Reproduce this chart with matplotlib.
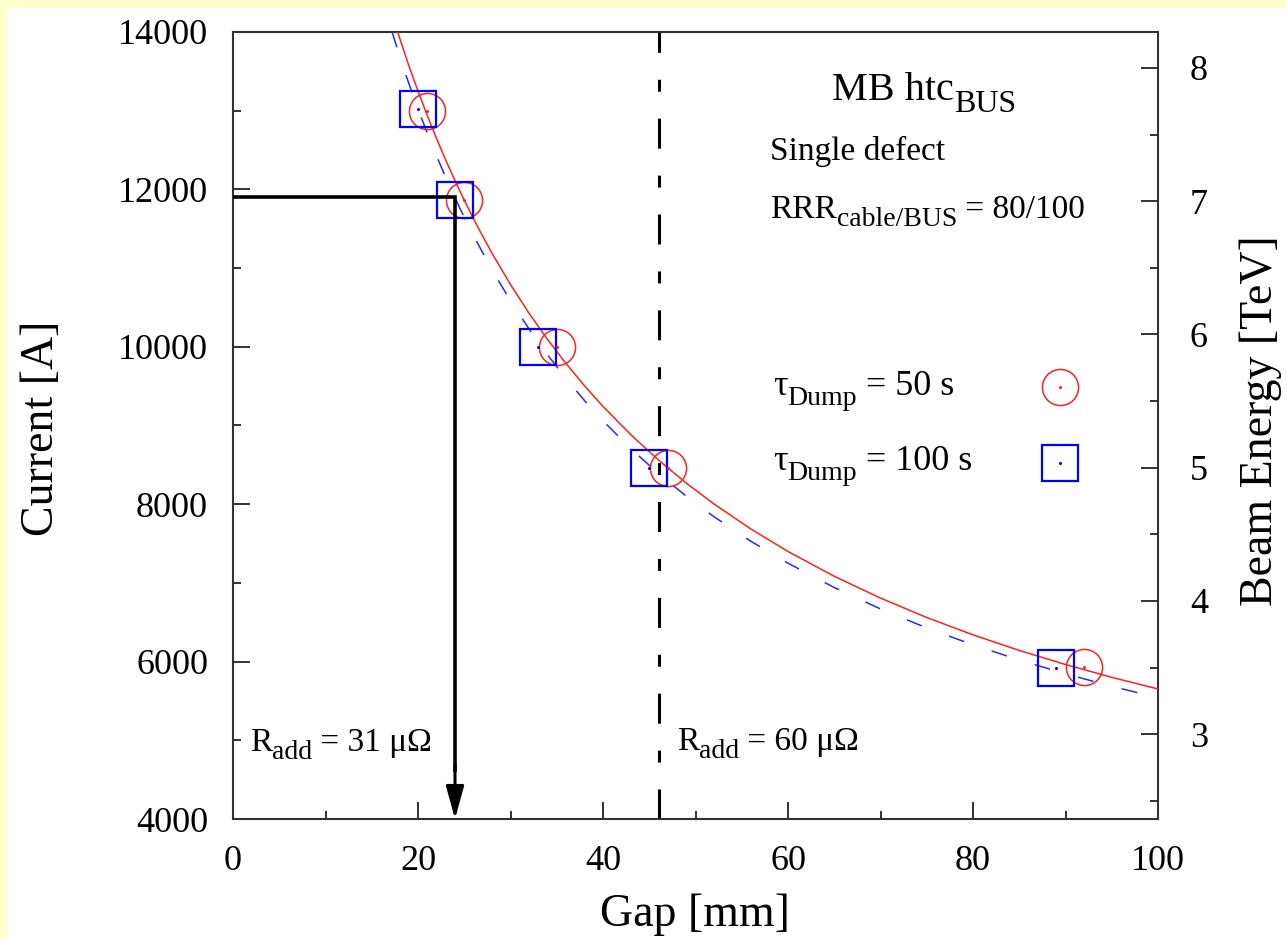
import numpy as np
import matplotlib
matplotlib.use("Agg")
import matplotlib.pyplot as plt
from matplotlib.patches import Rectangle

plt.rcParams['font.family'] = ['Liberation Serif', 'DejaVu Serif']
plt.rcParams['lines.scale_dashes'] = False

# measured points (gap in mm, current in A)
gap_50 = [21, 25, 35, 47, 92]
cur_50 = [13000, 11860, 10000, 8460, 5930]
gap_100 = [20, 24, 33, 45, 89]
cur_100 = [13020, 11860, 10000, 8460, 5920]

# fit curves
fit50_x = [17.8, 19, 20, 21, 22, 23, 24, 25, 26.5, 28, 30, 32, 34, 36, 38, 40, 43, 46, 49, 52,
           56, 60, 65, 70, 75, 80, 85, 90, 95, 100]
fit50_y = [14000, 13576, 13249, 12940, 12648, 12372, 12111, 11863, 11513, 11189, 10791, 10427,
           10094, 9788, 9505, 9242, 8884, 8561, 8268, 8003, 7684, 7399, 7084, 6807, 6560, 6340,
           6142, 5963, 5800, 5652]
fit100_x = [17.2, 18.5, 20, 21.5, 23, 24.5, 26, 28, 30, 32, 34, 36, 38, 40, 43, 46, 49, 52, 56,
            60, 65, 70, 75, 80, 85, 90, 95, 100]
fit100_y = [14000, 13516, 13020, 12566, 12150, 11766, 11412, 10979, 10585, 10227, 9898, 9596,
            9317, 9059, 8706, 8389, 8102, 7841, 7528, 7250, 6941, 6669, 6428, 6213, 6020, 5845,
            5686, 5542]

# 7 TeV <-> 11850 A
amp_per_tev = 11850 / 7.0

gap_31 = 24      # R_add = 31 uOhm
cur_31 = 11900
gap_60 = 46      # R_add = 60 uOhm

W, H = 1287, 939
fig = plt.figure(figsize=(W / 100, H / 100), dpi=100)
fig.patch.set_facecolor('#FFFFCC')
fig.patches.append(Rectangle((7 / W, 0), 1, 1 - 8 / H, transform=fig.transFigure,
                             facecolor='white', edgecolor='none', zorder=-10))

ax = fig.add_axes([233 / W, 1 - 819 / H, 925 / W, 787 / H])
ax.set_xlim(0, 100)
ax.set_ylim(4000, 14000)

red = '#ff2020'
blue = '#2828ff'
ax.plot(fit50_x, fit50_y, color=red, lw=1.1, zorder=3)
ax.plot(fit100_x, fit100_y, color=blue, lw=1.1, dashes=(11.5, 21), zorder=3)
ax.plot(gap_50, cur_50, 'o', ms=26, mfc='none', mec=red, mew=1.1, zorder=4)
ax.plot(gap_100, cur_100, 's', ms=26, mfc='none', mec='#0000ff', mew=1.6, zorder=4)
ax.plot(gap_50, cur_50, 'o', ms=1.2, color=red, zorder=4)
ax.plot(gap_100, cur_100, 'o', ms=1.2, color='#0000ff', zorder=4)

# 31 uOhm limit line + arrow
ax.plot([0, gap_31, gap_31], [cur_31, cur_31, 4600], color='k', lw=2.6,
        solid_joinstyle='miter', solid_capstyle='butt', zorder=5)
ax.annotate('', xy=(gap_31, 4000), xytext=(gap_31, 4700),
            arrowprops=dict(arrowstyle='-|>,head_length=2.0,head_width=0.55',
                            color='k', lw=2.2, shrinkA=0, shrinkB=0), zorder=5)
ax.axvline(gap_60, color='k', lw=2.2, dashes=(21.6, 19.4, 8.6, 19.4), zorder=2)

ax.set_xticks([0, 20, 40, 60, 80, 100])
ax.set_xticks(np.arange(10, 100, 20), minor=True)
ax.set_yticks([4000, 6000, 8000, 10000, 12000, 14000])
ax.set_yticks(np.arange(5000, 14000, 2000), minor=True)
ax.tick_params(which='both', direction='in', top=False, right=False, labelsize=26,
               width=1.3, color='#222222')
ax.tick_params(which='major', length=12)
ax.tick_params(which='minor', length=6)
ax.tick_params(axis='y', pad=18)
ax.tick_params(axis='x', pad=19)
for s in ax.spines.values():
    s.set_linewidth(1.5)
    s.set_color('#333333')

ax2 = ax.twinx()
ax2.set_ylim(4000 / amp_per_tev, 14000 / amp_per_tev)
ax2.set_yticks([3, 4, 5, 6, 7, 8])
ax2.set_yticks(np.arange(2.5, 8.3, 1.0), minor=True)
ax2.tick_params(which='both', direction='in', labelsize=26, width=1.3, color='#222222', pad=23)
ax2.tick_params(which='major', length=12)
ax2.tick_params(which='minor', length=6)
for s in ax2.spines.values():
    s.set_visible(False)

fig.text(42 / W, 1 - 428 / H, 'Current [A]', rotation=90, ha='center', va='center', fontsize=33)
fig.text(695 / W, 1 - 926 / H, 'Gap [mm]', ha='center', va='baseline', fontsize=33)
fig.text(1240 / W, 1 - 421 / H, 'Beam Energy [TeV]', rotation=90, ha='left', va='center', fontsize=33)

renderer = fig.canvas.get_renderer()


def rich(x, y, parts):
    # parts: (text, fontsize, drop below baseline in px)
    for s, size, dy in parts:
        t = fig.text(x / W, 1 - (y + dy) / H, s, fontsize=size, ha='left', va='baseline')
        x += t.get_window_extent(renderer).width


rich(832, 100, [('MB htc', 29, 0), ('BUS', 23, 12)])
rich(770, 160, [('Single defect', 24, 0)])
rich(770, 218, [('RRR', 24, 0), ('cable/BUS', 20, 8), (' = 80/100', 24, 0)])
rich(773, 395, [('τ', 26, 0), ('Dump', 20, 10), (' = 50 s', 26, 0)])
rich(773, 470, [('τ', 26, 0), ('Dump', 20, 10), (' = 100 s', 26, 0)])
rich(250, 751, [('R', 24, 0), ('add', 20, 8), (' = 31 μΩ', 24, 0)])
rich(677, 750, [('R', 24, 0), ('add', 20, 8), (' = 60 μΩ', 24, 0)])

tr = ax.transAxes
ax.plot([0.894], [0.5489], 'o', ms=26, mfc='none', mec=red, mew=1.1, transform=tr)
ax.plot([0.894], [0.4524], 's', ms=26, mfc='none', mec='#0000ff', mew=1.6, transform=tr)
ax.plot([0.894], [0.5489], 'o', ms=1.2, color=red, transform=tr)
ax.plot([0.894], [0.4524], 'o', ms=1.2, color='#0000ff', transform=tr)

fig.savefig('out.png', dpi=100)
